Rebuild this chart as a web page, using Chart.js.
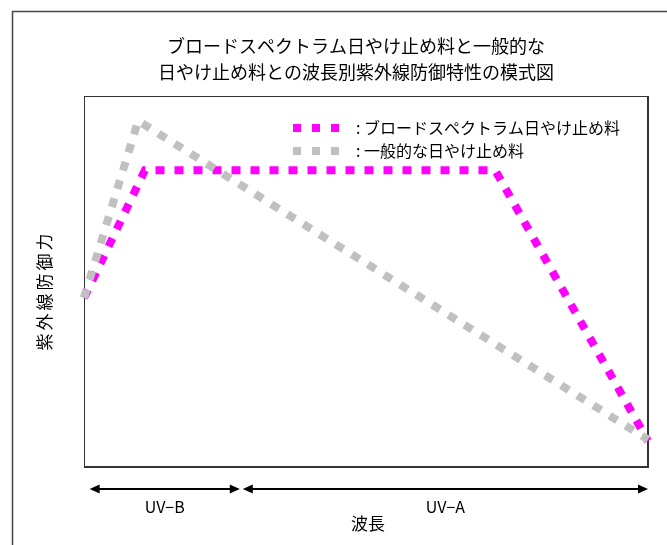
<!DOCTYPE html>
<html>
<head>
<meta charset="utf-8">
<script src="https://cdn.jsdelivr.net/npm/chart.js@4.4.0/dist/chart.umd.min.js"></script>
<style>
  html, body { margin: 0; padding: 0; background: #fff; }
  #wrap { width: 667px; height: 545px; }
</style>
</head>
<body>
<div id="wrap"><canvas id="chart" width="667" height="545"></canvas></div>
<script>
const titleLines = ["ブロードスペクトラム日やけ止め料と一般的な", "日やけ止め料との波長別紫外線防御特性の模式図"];
const seriesNames = ["ブロードスペクトラム日やけ止め料", "一般的な日やけ止め料"];
const broadX = [0, 10.8, 72.9, 100];
const broadY = [45.6, 80, 80, 7];
const generalX = [0, 9.6, 100];
const generalY = [45.6, 93.3, 7.4];
const bandNames = ["UV−B", "UV−A"];
const bandEdges = [1, 27.8, 100];
const xTitle = "波長";
const yTitle = "紫外線防御力";

const FONT = "'Noto Sans CJK JP', 'Noto Sans', sans-serif";

const toPoints = (xs, ys) => xs.map((x, i) => ({ x: x, y: ys[i] }));

const decor = {
    id: 'decor',
    beforeDatasetsDraw(chart) {
        const ctx = chart.ctx;
        const a = chart.chartArea;
        ctx.save();
        // outer frame
        ctx.strokeStyle = '#444';
        ctx.lineWidth = 1.5;
        ctx.beginPath();
        ctx.moveTo(12.5, 545);
        ctx.lineTo(12.5, 11.5);
        ctx.lineTo(667, 11.5);
        ctx.stroke();
        // plot frame
        ctx.strokeStyle = '#333';
        ctx.lineWidth = 1;
        ctx.strokeRect(a.left + 0.5, a.top + 0.5, a.right - a.left, a.bottom - a.top);
        ctx.lineWidth = 2;
        ctx.beginPath();
        ctx.moveTo(a.right, a.top);
        ctx.lineTo(a.right, a.bottom);
        ctx.lineTo(a.left, a.bottom);
        ctx.stroke();
        ctx.restore();
    },
    afterDraw(chart) {
        const ctx = chart.ctx;
        const a = chart.chartArea;
        const xs = chart.scales.x;
        const cx = (a.left + a.right) / 2;
        ctx.save();
        ctx.fillStyle = '#000';
        ctx.textAlign = 'center';
        ctx.textBaseline = 'middle';

        // title
        ctx.font = '18px ' + FONT;
        ctx.fillText(titleLines[0], 356, 46);
        ctx.fillText(titleLines[1], 356, 72);

        // y title
        ctx.save();
        ctx.translate(45, 292);
        ctx.rotate(-Math.PI / 2);
        ctx.font = '17px ' + FONT;
        ctx.letterSpacing = '3px';
        ctx.fillText(yTitle, 1.5, 0);
        ctx.restore();

        // legend
        ctx.textAlign = 'left';
        ctx.font = '16px ' + FONT;
        chart.data.datasets.forEach((ds, i) => {
            const y = 128 + i * 23;
            ctx.save();
            ctx.strokeStyle = ds.borderColor;
            ctx.lineWidth = 8;
            ctx.setLineDash([8, 11]);
            ctx.beginPath();
            ctx.moveTo(293, y);
            ctx.lineTo(341, y);
            ctx.stroke();
            ctx.restore();
            ctx.fillText(': ' + ds.label, 356, y);
        });

        // wavelength bands
        const ay = 489;
        ctx.strokeStyle = '#000';
        ctx.lineWidth = 2;
        ctx.textAlign = 'center';
        bandNames.forEach((name, i) => {
            const x0 = xs.getPixelForValue(bandEdges[i]) + (i > 0 ? 2 : 0);
            const x1 = xs.getPixelForValue(bandEdges[i + 1]) - (i === 0 ? 1 : 0);
            ctx.beginPath();
            ctx.moveTo(x0 + 8, ay);
            ctx.lineTo(x1 - 8, ay);
            ctx.stroke();
            ctx.beginPath();
            ctx.moveTo(x0, ay);
            ctx.lineTo(x0 + 10, ay - 4.5);
            ctx.lineTo(x0 + 10, ay + 4.5);
            ctx.closePath();
            ctx.moveTo(x1, ay);
            ctx.lineTo(x1 - 10, ay - 4.5);
            ctx.lineTo(x1 - 10, ay + 4.5);
            ctx.closePath();
            ctx.fill();
            ctx.font = '16px ' + FONT;
            ctx.fillText(name, (x0 + x1) / 2, 507);
        });

        // x title
        ctx.font = '17px ' + FONT;
        ctx.fillText(xTitle, cx + 2, 524);
        ctx.restore();
    }
};

new Chart(document.getElementById('chart'), {
    type: 'line',
    data: {
        datasets: [{
            label: seriesNames[0],
            data: toPoints(broadX, broadY),
            borderColor: '#ff00ff',
            borderWidth: 8,
            borderDash: [9, 10],
            pointRadius: 0,
            tension: 0,
            clip: false,
            order: 1
        }, {
            label: seriesNames[1],
            data: toPoints(generalX, generalY),
            borderColor: '#c0c0c0',
            borderWidth: 8,
            borderDash: [9, 10],
            pointRadius: 0,
            tension: 0,
            clip: false,
            order: 0
        }]
    },
    options: {
        responsive: false,
        animation: false,
        layout: { padding: { left: 84, top: 96, right: 19, bottom: 78 } },
        plugins: { legend: { display: false }, tooltip: { enabled: false } },
        scales: {
            x: { type: 'linear', min: 0, max: 100, display: false },
            y: { min: 0, max: 100, display: false }
        }
    },
    plugins: [decor]
});
</script>
</body>
</html>
